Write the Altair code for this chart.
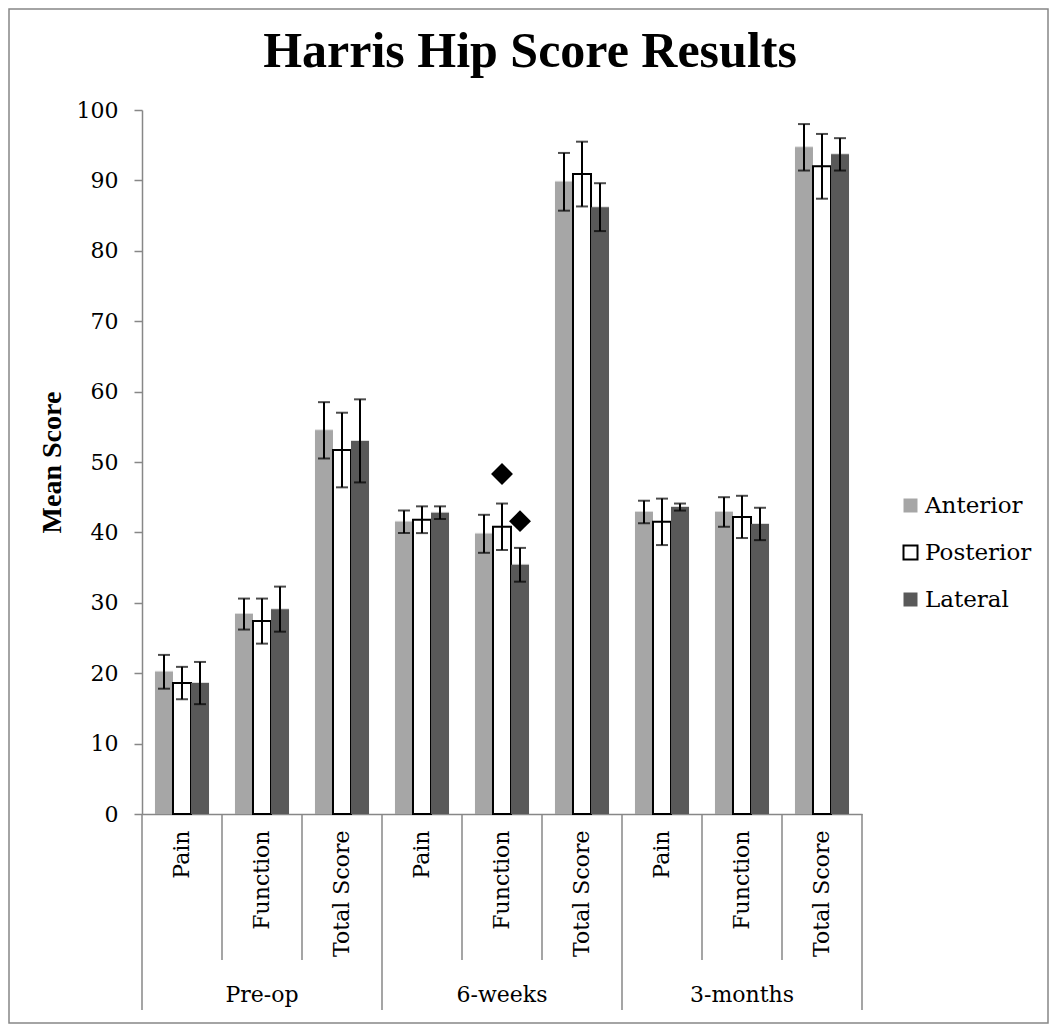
import altair as alt
import pandas as pd

groups = ["Pre-op", "6-weeks", "3-months"]
subs = ["Pain", "Function", "Total Score"]
series = ["Anterior", "Posterior", "Lateral"]
series_fill = ["#a6a6a6", "#ffffff", "#595959"]
series_stroke = ["transparent", "#000000", "transparent"]

# values in order: Pre-op (Pain, Function, Total), 6-weeks (...), 3-months (...)
anterior = [20.2, 28.4, 54.5, 41.5, 39.8, 89.8, 42.9, 42.9, 94.7]
anterior_err = [2.4, 2.2, 4.0, 1.6, 2.7, 4.1, 1.6, 2.1, 3.3]
posterior = [18.6, 27.4, 51.7, 41.8, 40.8, 90.9, 41.5, 42.2, 92.0]
posterior_err = [2.3, 3.2, 5.3, 1.9, 3.3, 4.6, 3.3, 3.0, 4.6]
lateral = [18.6, 29.1, 53.0, 42.8, 35.4, 86.2, 43.6, 41.2, 93.7]
lateral_err = [3.0, 3.2, 5.9, 0.9, 2.4, 3.4, 0.5, 2.3, 2.3]

marker_category = "6-weeks|Function"
marker_series = ["Posterior", "Lateral"]
marker_values = [48.3, 41.6]

y_ticks = [0, 10, 20, 30, 40, 50, 60, 70, 80, 90, 100]

keys = [f"{g}|{s}" for g in groups for s in subs]

rows = []
for name, vals, errs in [("Anterior", anterior, anterior_err),
                         ("Posterior", posterior, posterior_err),
                         ("Lateral", lateral, lateral_err)]:
    for k, v, e in zip(keys, vals, errs):
        rows.append({"key": k, "series": name, "value": v,
                     "lo": v - e, "hi": v + e})
df = pd.DataFrame(rows)

markers = pd.DataFrame({"key": [marker_category] * len(marker_series),
                        "series": marker_series, "value": marker_values})

sub_sep = pd.DataFrame({"key": [k for k in keys if not k.endswith("|Pain")]})
grp_sep = pd.DataFrame({"key": [k for k in keys if k.endswith("|Pain")]})
end_sep = pd.DataFrame({"key": [keys[-1]]})
grp_lab = pd.DataFrame({"key": [f"{g}|Function" for g in groups],
                        "label": groups})

FONT = "DejaVu Serif"

x_enc = alt.X("key:N", sort=keys, title=None,
              scale=alt.Scale(paddingInner=0, paddingOuter=0),
              axis=alt.Axis(labelExpr="split(datum.label, '|')[1]",
                            labelAngle=-90, labelAlign="right",
                            labelBaseline="middle", ticks=False, tickSize=0,
                            labelPadding=16, labelFont=FONT, labelFontSize=22,
                            labelColor="black", domainColor="#878787",
                            domainWidth=1.5))
xo_enc = alt.XOffset("series:N", sort=series,
                     scale=alt.Scale(paddingInner=0, paddingOuter=0.72))
y_scale = alt.Scale(domain=[0, 100], nice=False)

legend_def = alt.Legend(title=None, orient="none", legendX=757,
                        legendY=384, symbolType="square",
                        symbolSize=196, symbolStrokeWidth=2,
                        labelFont=FONT, labelFontSize=23,
                        labelColor="black", rowPadding=23,
                        labelOffset=3, padding=0)

shadow = alt.Chart(df).mark_bar(color="#d4d4d4", opacity=0.8, xOffset=3,
                                yOffset=-1).encode(
    x=alt.X("key:N", sort=keys),
    xOffset=alt.XOffset("series:N", sort=series),
    y=alt.Y("value:Q", scale=y_scale),
)

bars = alt.Chart(df).mark_bar(strokeWidth=2).encode(
    x=x_enc,
    xOffset=xo_enc,
    y=alt.Y("value:Q", scale=y_scale, title="Mean Score",
            axis=alt.Axis(values=y_ticks, grid=False, tickSize=8,
                          tickColor="#878787", domainColor="#878787",
                          domainWidth=1.5, tickWidth=1.5,
                          labelFont=FONT, labelFontSize=22, labelColor="black",
                          labelPadding=16, titleFont="Liberation Serif",
                          titleFontSize=28, titleFontWeight="bold",
                          titleColor="black", titleX=-90, titleY=352,
                          titleBaseline="middle")),
    fill=alt.Fill("series:N", sort=series,
                  scale=alt.Scale(domain=series, range=series_fill),
                  legend=legend_def),
    stroke=alt.Stroke("series:N", sort=series,
                      scale=alt.Scale(domain=series, range=series_stroke),
                      legend=legend_def),
)

err = alt.Chart(df).mark_rule(color="black", strokeWidth=2).encode(
    x=alt.X("key:N", sort=keys),
    xOffset=alt.XOffset("series:N", sort=series),
    y=alt.Y("lo:Q", scale=y_scale),
    y2="hi:Q",
)
cap_lo = alt.Chart(df).mark_tick(color="black", thickness=2, size=12).encode(
    x=alt.X("key:N", sort=keys),
    xOffset=alt.XOffset("series:N", sort=series),
    y=alt.Y("lo:Q", scale=y_scale),
)
cap_hi = alt.Chart(df).mark_tick(color="black", thickness=2, size=12).encode(
    x=alt.X("key:N", sort=keys),
    xOffset=alt.XOffset("series:N", sort=series),
    y=alt.Y("hi:Q", scale=y_scale),
)

pts = alt.Chart(markers).mark_point(shape="diamond", filled=True,
                                    color="black", size=480, opacity=1).encode(
    x=alt.X("key:N", sort=keys),
    xOffset=alt.XOffset("series:N", sort=series),
    y=alt.Y("value:Q", scale=y_scale),
)

sep_sub = alt.Chart(sub_sep).mark_rule(color="#878787", strokeWidth=1.5).encode(
    x=alt.X("key:N", sort=keys, bandPosition=0),
    y=alt.value(704), y2=alt.value(850),
)
sep_grp = alt.Chart(grp_sep).mark_rule(color="#878787", strokeWidth=1.5).encode(
    x=alt.X("key:N", sort=keys, bandPosition=0),
    y=alt.value(704), y2=alt.value(900),
)
sep_end = alt.Chart(end_sep).mark_rule(color="#878787", strokeWidth=1.5).encode(
    x=alt.X("key:N", sort=keys, bandPosition=1),
    y=alt.value(704), y2=alt.value(900),
)
glabels = alt.Chart(grp_lab).mark_text(font=FONT, fontSize=22, color="black",
                                       baseline="middle").encode(
    x=alt.X("key:N", sort=keys),
    y=alt.value(885),
    text="label:N",
)

border = alt.Chart(pd.DataFrame({"a": [0]})).mark_rect(
    fill="transparent", stroke="#878787", strokeWidth=1.5).encode(
    x=alt.value(-133), x2=alt.value(906), y=alt.value(-101), y2=alt.value(913))

chart = alt.layer(border, shadow, bars, err, cap_lo, cap_hi, pts, sep_sub,
                  sep_grp, sep_end, glabels).properties(
    width=720, height=704,
    view=alt.ViewBackground(stroke="transparent", strokeWidth=0),
    title=alt.TitleParams("Harris Hip Score Results", font="Liberation Serif",
                          fontSize=50, fontWeight="bold", color="black",
                          anchor="middle", frame="group", dx=28, offset=-109,
                          baseline="alphabetic"),
    autosize=alt.AutoSizeParams(type="none"),
    padding={"left": 134, "top": 102, "right": 187, "bottom": 210},
).configure(background="white").configure_view(stroke="transparent", strokeWidth=0)

chart.save("out.html", embed_options={"renderer": "svg", "actions": False})
